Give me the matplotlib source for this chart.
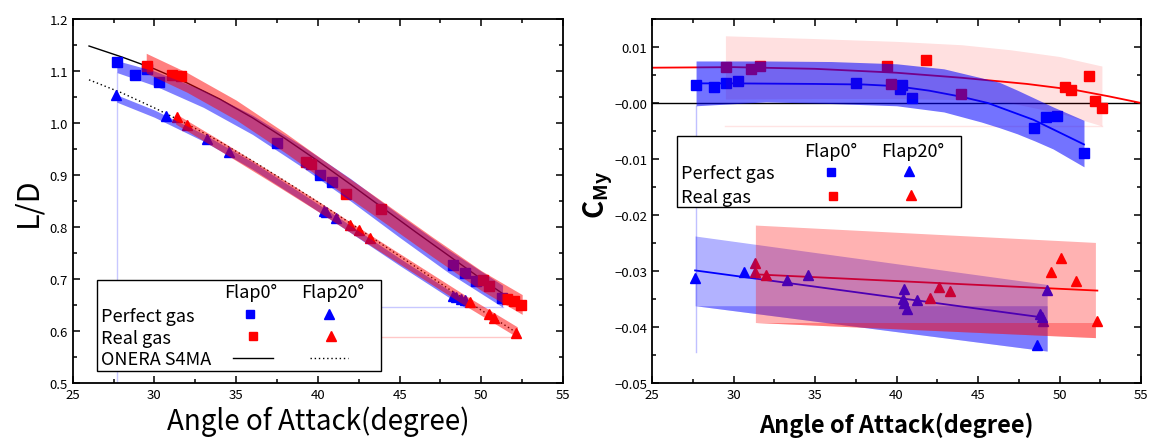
import matplotlib
matplotlib.use("Agg")
import matplotlib.pyplot as plt
import matplotlib.patches as patches
from matplotlib.ticker import MultipleLocator, FormatStrFormatter, FuncFormatter

plt.rcParams['font.family'] = ['Noto Sans CJK JP', 'DejaVu Sans']
plt.rcParams['mathtext.fontset'] = 'custom'
plt.rcParams['mathtext.bf'] = 'Noto Sans CJK JP:bold'
plt.rcParams['mathtext.rm'] = 'Noto Sans CJK JP'

# ---------------- L/D data (left) ----------------
pg0_x = [27.7, 28.8, 29.56, 30.3, 37.47, 40.16, 40.87, 48.26, 48.98, 49.65, 51.28]
pg0_y = [1.118, 1.092, 1.104, 1.079, 0.961, 0.900, 0.886, 0.727, 0.711, 0.696, 0.663]
rg0_x = [29.56, 31.09, 31.6, 39.3, 39.57, 41.7, 43.85, 50.1, 50.5, 51.56, 52.0, 52.45]
rg0_y = [1.109, 1.092, 1.090, 0.925, 0.921, 0.863, 0.834, 0.698, 0.687, 0.662, 0.658, 0.650]
pg20_x = [27.65, 30.68, 33.23, 34.55, 40.36, 40.5, 41.14, 48.25, 48.47, 48.78, 49.0]
pg20_y = [1.054, 1.014, 0.969, 0.944, 0.831, 0.828, 0.817, 0.667, 0.665, 0.662, 0.659]
rg20_x = [31.36, 32.0, 41.95, 42.5, 43.2, 49.28, 50.46, 50.75, 52.1]
rg20_y = [1.011, 0.996, 0.804, 0.794, 0.778, 0.655, 0.633, 0.625, 0.597]

onera_x = [26, 28, 30, 32, 34, 36, 38, 40, 42, 44, 46, 48, 50, 52]
onera0_y = [1.148, 1.127, 1.104, 1.077, 1.046, 1.010, 0.970, 0.927, 0.882, 0.836, 0.790, 0.745, 0.700, 0.657]
onera20_y = [1.083, 1.058, 1.029, 0.998, 0.964, 0.927, 0.888, 0.848, 0.807, 0.765, 0.723, 0.681, 0.640, 0.600]

# confidence bands (L/D)
b0_x = [27.7, 30, 33, 36, 39, 42, 45, 48, 51.3]
b0_lo = [1.097, 1.072, 1.030, 0.978, 0.916, 0.850, 0.780, 0.712, 0.646]
b0_hi = [1.120, 1.100, 1.063, 1.015, 0.957, 0.893, 0.823, 0.756, 0.688]
r0_x = [29.5, 32, 35, 38, 41, 44, 47, 50, 52.5]
r0_c = [1.115, 1.078, 1.025, 0.962, 0.895, 0.829, 0.762, 0.697, 0.651]
r0_hw = 0.019
b20_x = [27.7, 30, 33, 36, 39, 42, 45, 48, 49.0]
b20_c = [1.047, 1.018, 0.972, 0.918, 0.858, 0.796, 0.733, 0.672, 0.652]
b20_hw = 0.007
r20_x = [31.3, 34, 37, 40, 43, 46, 49, 52.2]
r20_c = [1.008, 0.957, 0.899, 0.840, 0.779, 0.719, 0.659, 0.598]
r20_hw = 0.010

# ---------------- Cmy data (right) ----------------
cp0_x = [27.7, 28.78, 29.53, 30.25, 37.53, 40.21, 40.35, 40.93, 48.43, 49.15, 49.82, 51.5]
cp0_y = [0.00327, 0.00286, 0.00357, 0.0040, 0.00357, 0.00256, 0.00327, 0.00095,
         -0.0044, -0.00256, -0.00232, -0.00893]
cr0_x = [29.53, 31.05, 31.61, 39.43, 39.63, 41.82, 43.97, 50.31, 50.71, 51.79, 52.19, 52.63]
cr0_y = [0.00643, 0.0060, 0.0066, 0.0066, 0.00333, 0.00774, 0.00155, 0.0028, 0.00238,
         0.00488, 0.0003, -0.00089]
cp20_x = [27.64, 30.65, 33.29, 34.58, 40.48, 40.41, 40.48, 40.64, 41.26, 48.59, 48.81, 48.93, 48.97, 49.24]
cp20_y = [-0.0313, -0.0301, -0.0316, -0.0307, -0.0332, -0.0350, -0.0358, -0.0368, -0.0352,
          -0.0433, -0.0377, -0.0383, -0.0389, -0.0334]
cr20_x = [31.34, 31.32, 32.01, 42.05, 42.6, 43.27, 49.49, 50.07, 50.98, 52.32]
cr20_y = [-0.0285, -0.0301, -0.0308, -0.0349, -0.0329, -0.0335, -0.0302, -0.0276, -0.0317, -0.0390]

fitp0_x = [27.7, 30, 35, 38, 40, 42, 44, 45.6, 47, 48.4, 49.6, 51.5]
fitp0_y = [0.0035, 0.0035, 0.0034, 0.0033, 0.0030, 0.0022, 0.0011, 0.0, -0.0015, -0.0030, -0.0047, -0.0074]
fitr0_x = [25, 30, 35, 40, 44, 48, 51, 53, 55]
fitr0_y = [0.0063, 0.0064, 0.0061, 0.0054, 0.0045, 0.0034, 0.0023, 0.0012, 0.0]
fitp20_x = [27.64, 48.97]
fitp20_y = [-0.0299, -0.0383]
fitr20_x = [31.34, 52.32]
fitr20_y = [-0.0306, -0.0335]

cb0_x = [27.7, 32, 36, 40, 42.9, 45.2, 46.3, 47.4, 48.5, 49.6, 51.5]
cb0_hi = [0.0075, 0.0075, 0.0074, 0.0070, 0.0061, 0.0045, 0.0037, 0.0023, 0.0008, -0.0007, -0.0031]
cb0_lo = [-0.0005, 0.0002, -0.0001, -0.0005, -0.0016, -0.0034, -0.0044, -0.0055, -0.0068, -0.0082, -0.0114]
cr0b_x = [29.5, 35, 40, 44, 47, 50, 52.6]
cr0b_lo = [0.0007, 0.0008, 0.0008, 0.0006, 0.0000, -0.0018, -0.0041]
cr0b_hi = [0.0120, 0.0115, 0.0110, 0.0104, 0.0095, 0.0083, 0.0066]
cb20_x = [27.64, 49.24]
cb20_hi = [-0.02375, -0.0324]
cb20_lo = [-0.0362, -0.0443]
cr20b_x = [31.34, 52.2]
cr20b_hi = [-0.0218, -0.0249]
cr20b_lo = [-0.0392, -0.0419]

BLUE = '#0000ff'
RED = '#ff0000'

fig = plt.figure(figsize=(11.5, 4.39), dpi=100)
ax1 = fig.add_axes([0.0632, 0.1253, 0.4264, 0.8292])
ax2 = fig.add_axes([0.567, 0.1253, 0.4252, 0.8292])


def style_axes(ax):
    ax.set_xlim(25, 55)
    ax.xaxis.set_major_locator(MultipleLocator(5))
    ax.xaxis.set_minor_locator(MultipleLocator(2.5))
    ax.tick_params(which='both', direction='in', top=True, right=True, labelsize=9.5, width=1.1)
    ax.tick_params(which='major', length=5)
    ax.tick_params(which='minor', length=3)
    for s in ax.spines.values():
        s.set_linewidth(1.3)


def band(ax, x, c, hw, color, alpha):
    lo = [v - hw for v in c]
    hi = [v + hw for v in c]
    ax.fill_between(x, lo, hi, color=color, alpha=alpha, lw=0, zorder=3)


# ---- left: L/D ----
ax = ax1
style_axes(ax)
ax.set_ylim(0.5, 1.2)
ax.yaxis.set_major_locator(MultipleLocator(0.1))
ax.yaxis.set_minor_locator(MultipleLocator(0.05))
ax.yaxis.set_major_formatter(FormatStrFormatter('%.1f'))

ax.plot([b0_x[0], b0_x[0]], [0.5, b0_lo[0]], color='#c8c8ff', lw=1, zorder=1)
ax.plot([b0_x[0], b0_x[-1]], [b0_lo[-1], b0_lo[-1]], color='#c8c8ff', lw=1, zorder=1)
ax.plot([r20_x[0], r20_x[-1]], [r20_c[-1] - r20_hw] * 2, color='#ffc8c8', lw=1, zorder=1)

ax.plot(onera_x, onera0_y, color='black', lw=1, zorder=2)
ax.plot(onera_x, onera20_y, color='black', lw=1, ls=(0, (1, 2)), zorder=2)
ax.plot(pg0_x, pg0_y, 's', color=BLUE, ms=6.5, zorder=2)
ax.plot(rg0_x, rg0_y, 's', color=RED, ms=6.5, zorder=2)
ax.plot(pg20_x, pg20_y, '^', color=BLUE, ms=7, zorder=2)
ax.plot(rg20_x, rg20_y, '^', color=RED, ms=7, zorder=2)

ax.fill_between(b0_x, b0_lo, b0_hi, color=BLUE, alpha=0.5, lw=0, zorder=3)
band(ax, b20_x, b20_c, b20_hw, BLUE, 0.5)
band(ax, r0_x, r0_c, r0_hw, RED, 0.5)
band(ax, r20_x, r20_c, r20_hw, RED, 0.5)

ax.set_ylabel('L/D', fontsize=22)
ax.yaxis.set_label_coords(-0.06, 0.5)
ax.set_xlabel('Angle of Attack(degree)', fontsize=20)
ax.xaxis.set_label_coords(0.5, -0.062)

# legend (left)
t = ax.transAxes
ax.add_patch(patches.Rectangle((0.050, 0.032), 0.578, 0.252, transform=t, fc='white',
                               ec='black', lw=1, zorder=5))
ax.text(0.362, 0.250, 'Flap0°', transform=t, fontsize=13, ha='center', va='center', zorder=6)
ax.text(0.531, 0.250, 'Flap20°', transform=t, fontsize=13, ha='center', va='center', zorder=6)
ax.text(0.057, 0.185, 'Perfect gas', transform=t, fontsize=13, va='center', zorder=6)
ax.text(0.057, 0.124, 'Real gas', transform=t, fontsize=13, va='center', zorder=6)
ax.text(0.057, 0.066, 'ONERA S4MA', transform=t, fontsize=13, va='center', zorder=6)
ax.plot([0.362], [0.19], 's', color=BLUE, ms=5.5, transform=t, zorder=6)
ax.plot([0.523], [0.19], '^', color=BLUE, ms=6.5, transform=t, zorder=6)
ax.plot([0.368], [0.128], 's', color=RED, ms=5.5, transform=t, zorder=6)
ax.plot([0.527], [0.128], '^', color=RED, ms=6.5, transform=t, zorder=6)
ax.plot([0.326, 0.409], [0.068, 0.068], color='black', lw=1, transform=t, zorder=6)
ax.plot([0.484, 0.562], [0.068, 0.068], color='black', lw=1, ls=(0, (1, 2)), transform=t, zorder=6)

# ---- right: Cmy ----
ax = ax2
style_axes(ax)
ax.set_ylim(-0.05, 0.015)
ax.yaxis.set_major_locator(MultipleLocator(0.01))
ax.yaxis.set_minor_locator(MultipleLocator(0.005))
ax.yaxis.set_major_formatter(FuncFormatter(lambda v, p: ('%.2f' % v).replace('-', '\u2212')))

ax.axhline(0, color='black', lw=1, zorder=2)
ax.plot([cb0_x[0], cb0_x[0]], [-0.0445, cb0_lo[0]], color='#c0c0ff', lw=1, zorder=1)
ax.plot([cr0b_x[0], cr0b_x[-1]], [cr0b_lo[-1]] * 2, color='#ffe4e4', lw=1, zorder=1)

ax.plot(fitr0_x, fitr0_y, color=RED, lw=1.3, zorder=2)
ax.plot(fitp0_x, fitp0_y, color=BLUE, lw=1.3, zorder=2)
ax.plot(fitp20_x, fitp20_y, color=BLUE, lw=1.3, zorder=2)
ax.plot(fitr20_x, fitr20_y, color=RED, lw=1.3, zorder=2)
ax.plot(cp0_x, cp0_y, 's', color=BLUE, ms=6.5, zorder=2)
ax.plot(cr0_x, cr0_y, 's', color=RED, ms=6.5, zorder=2)
ax.plot(cp20_x, cp20_y, '^', color=BLUE, ms=7, zorder=2)
ax.plot(cr20_x, cr20_y, '^', color=RED, ms=7, zorder=2)

ax.fill_between(cr0b_x, cr0b_lo, cr0b_hi, color=RED, alpha=0.12, lw=0, zorder=3)
ax.fill_between(cb0_x, cb0_lo, cb0_hi, color=BLUE, alpha=0.55, lw=0, zorder=3)
ax.fill_between(cb20_x, cb20_lo, cb20_hi, color=BLUE, alpha=0.3, lw=0, zorder=3)
ax.fill_between(cb20_x, cb20_lo, [cb20_lo[0]] * 2, color=BLUE, alpha=0.3, lw=0, zorder=3)
ax.fill_between(cr20b_x, cr20b_lo, cr20b_hi, color=RED, alpha=0.3, lw=0, zorder=3)
ax.fill_between(cr20b_x, cr20b_lo, [cr20b_lo[0]] * 2, color=RED, alpha=0.3, lw=0, zorder=3)

ax.set_ylabel(r'$\mathbf{C_{My}}$', fontsize=20)
ax.yaxis.set_label_coords(-0.075, 0.52)
ax.set_xlabel('Angle of Attack(degree)', fontsize=17, fontweight='bold')
ax.xaxis.set_label_coords(0.5, -0.08)

# legend (right)
t = ax.transAxes
ax.add_patch(patches.Rectangle((0.051, 0.483), 0.581, 0.195, transform=t, fc='white',
                               ec='black', lw=1, zorder=5))
ax.text(0.365, 0.637, 'Flap0°', transform=t, fontsize=13, ha='center', va='center', zorder=6)
ax.text(0.534, 0.637, 'Flap20°', transform=t, fontsize=13, ha='center', va='center', zorder=6)
ax.text(0.059, 0.576, 'Perfect gas', transform=t, fontsize=13, va='center', zorder=6)
ax.text(0.059, 0.512, 'Real gas', transform=t, fontsize=13, va='center', zorder=6)
ax.plot([0.365], [0.580], 's', color=BLUE, ms=5.5, transform=t, zorder=6)
ax.plot([0.525], [0.582], '^', color=BLUE, ms=6.5, transform=t, zorder=6)
ax.plot([0.371], [0.515], 's', color=RED, ms=5.5, transform=t, zorder=6)
ax.plot([0.529], [0.517], '^', color=RED, ms=6.5, transform=t, zorder=6)

fig.savefig('out.png', dpi=100)
